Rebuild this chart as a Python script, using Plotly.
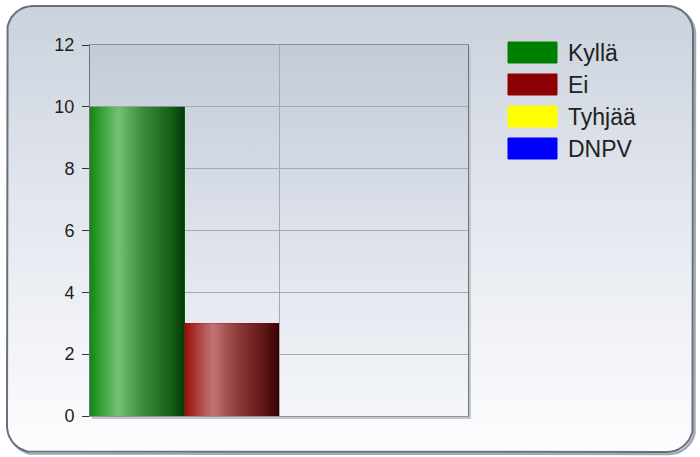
import numpy as np
import plotly.graph_objects as go

# Vote results
series = ["Kyllä", "Ei", "Tyhjää", "DNPV"]
votes = [10, 3, 0, 0]
colors = ["#008000", "#8b0000", "#ffff00", "#0000ff"]
y_ticks = [0, 2, 4, 6, 8, 10, 12]

# Cylinder-style shading for the bars
shades = {
    "#008000": [[0, "#158515"], [0.1, "#2f9e2f"], [0.3, "#74c074"], [0.55, "#3d8c3d"],
                [0.85, "#16601a"], [1, "#033a06"]],
    "#8b0000": [[0, "#9a0a0a"], [0.1, "#a83030"], [0.3, "#c27474"], [0.55, "#8f3c3c"],
                [0.85, "#5e1414"], [1, "#380303"]],
    "#ffff00": [[0, "#d8d800"], [0.3, "#ffff90"], [1, "#8a8a00"]],
    "#0000ff": [[0, "#0000c0"], [0.3, "#7070ff"], [1, "#00006a"]],
}

W, H = 700, 457
PLOT_L, PLOT_R, PLOT_T, PLOT_B = 90, 468, 45, 416


def rounded_rect(x0, y0, x1, y1, r, n=16):
    xs, ys = [], []
    corners = [(x1 - r, y0 + r, -90, 0), (x1 - r, y1 - r, 0, 90),
               (x0 + r, y1 - r, 90, 180), (x0 + r, y0 + r, 180, 270)]
    for cx, cy, a0, a1 in corners:
        a = np.radians(np.linspace(a0, a1, n))
        xs += list(cx + r * np.cos(a))
        ys += list(cy + r * np.sin(a))
    xs.append(xs[0])
    ys.append(ys[0])
    return xs, ys


fig = go.Figure()

# Background panel (pixel-space subplot)
sx, sy = rounded_rect(9, 8, 695, 454, 26)
fig.add_trace(go.Scatter(x=sx, y=sy, mode="lines", line=dict(color="#a3a9b3", width=2.5),
                         hoverinfo="skip", showlegend=False, xaxis="x", yaxis="y"))
px_, py_ = rounded_rect(7, 6, 693, 452, 26)
fig.add_trace(go.Scatter(
    x=px_, y=py_, mode="lines", fill="toself",
    line=dict(color="#687080", width=2),
    fillgradient=dict(type="vertical", colorscale=[[0, "#fdfdfe"], [0.55, "#e3e7ee"], [1, "#cbd2dd"]]),
    hoverinfo="skip", showlegend=False, xaxis="x", yaxis="y"))

# Plot-area shading
fig.add_trace(go.Scatter(
    x=[PLOT_L, PLOT_R, PLOT_R, PLOT_L, PLOT_L], y=[PLOT_T, PLOT_T, PLOT_B, PLOT_B, PLOT_T],
    mode="lines", fill="toself", line=dict(width=0, color="rgba(0,0,0,0)"),
    fillgradient=dict(type="vertical", colorscale=[[0, "#f4f6f9"], [0.5, "#dce1ea"], [1, "#c3cbd9"]]),
    hoverinfo="skip", showlegend=False, xaxis="x", yaxis="y"))
# plot-area drop shadow on right and bottom
fig.add_trace(go.Scatter(
    x=[PLOT_R + 2, PLOT_R + 2, PLOT_L + 2], y=[PLOT_T + 2, PLOT_B + 2, PLOT_B + 2],
    mode="lines", line=dict(color="#c4c7cc", width=2), hoverinfo="skip",
    showlegend=False, xaxis="x", yaxis="y"))

# Bars
bar_w = 0.5
for i, (name, v, c) in enumerate(zip(series, votes, colors)):
    xc = (i + 0.5) * bar_w
    fig.add_trace(go.Bar(x=[xc], y=[v], width=bar_w, name=name, marker=dict(color=c, line=dict(width=0)),
                         showlegend=False, xaxis="x2", yaxis="y2"))
    if v > 0:
        x0, x1 = xc - bar_w / 2, xc + bar_w / 2
        fig.add_trace(go.Scatter(
            x=[x0, x1, x1, x0, x0], y=[0, 0, v, v, 0], mode="lines", fill="toself",
            line=dict(width=0, color="rgba(0,0,0,0)"),
            fillgradient=dict(type="horizontal", colorscale=shades[c], start=x0, stop=x1),
            hoverinfo="skip", showlegend=False, xaxis="x2", yaxis="y2"))

# Legend
shapes, annotations = [], []
for i, (name, c) in enumerate(zip(series, colors)):
    top = 42 + i * 32
    shapes.append(dict(type="rect", xref="paper", yref="paper",
                       x0=508 / W, x1=557 / W, y0=1 - (top + 21) / H, y1=1 - top / H,
                       fillcolor=c, line=dict(color=c, width=1)))
    annotations.append(dict(text=name, xref="paper", yref="paper", x=566 / W, y=1 - (top + 11) / H,
                            xanchor="left", yanchor="middle", showarrow=False,
                            font=dict(family="Liberation Sans, Arial", size=23, color="#222222")))

fig.update_layout(
    template="none",
    width=W, height=H, margin=dict(l=0, r=0, t=0, b=0, pad=0, autoexpand=False),
    paper_bgcolor="white", plot_bgcolor="rgba(0,0,0,0)",
    showlegend=False,
    barmode="overlay", bargap=0,
    shapes=shapes, annotations=annotations,
    xaxis=dict(domain=[0, 1], range=[0, W], visible=False, fixedrange=True, automargin=False),
    yaxis=dict(domain=[0, 1], range=[H, 0], visible=False, fixedrange=True, automargin=False),
    xaxis2=dict(domain=[PLOT_L / W, PLOT_R / W], range=[0, 2], anchor="y2", automargin=False,
                showgrid=True, gridcolor="#a4a8b0", gridwidth=1, dtick=1, tick0=0,
                showticklabels=False, ticks="", zeroline=False,
                showline=True, linecolor="#8e939b", linewidth=1, mirror=True),
    yaxis2=dict(domain=[1 - PLOT_B / H, 1 - PLOT_T / H], range=[0, 12], anchor="x2", automargin=False,
                tickvals=y_ticks, ticks="outside", ticklen=7, tickcolor="#333333", tickwidth=1,
                showgrid=True, gridcolor="#a4a8b0", gridwidth=1, zeroline=False,
                showline=True, linecolor="#6f747c", linewidth=1, mirror=True,
                ticklabelstandoff=4,
                tickfont=dict(family="Liberation Sans, Arial", size=18, color="#1e1e1e")),
)

fig.write_html("out.html")
